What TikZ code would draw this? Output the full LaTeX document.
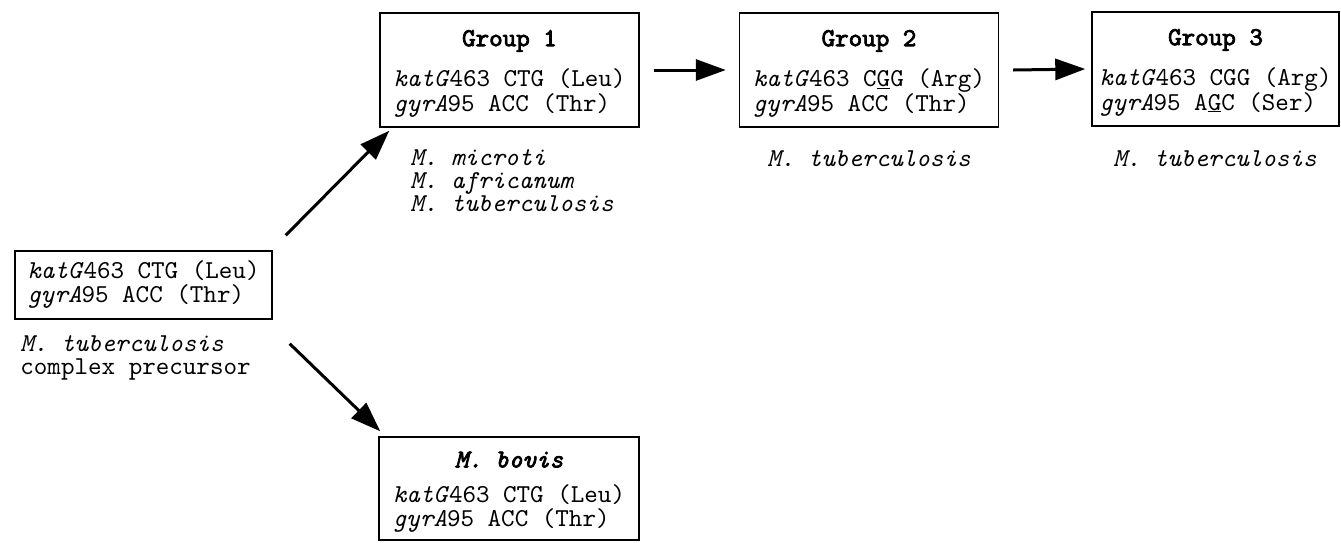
\documentclass[tikz,border=0pt]{standalone}
\usepackage{fontspec}
\setmonofont{lmmono10-regular.otf}[ItalicFont=lmmono10-italic.otf,
  BoldFont=lmmono10-regular.otf,BoldFeatures={FakeBold=3},
  BoldItalicFont=lmmono10-italic.otf,BoldItalicFeatures={FakeBold=3}]
\usetikzlibrary{arrows.meta,positioning}
% gene names in italics, the two marker codons as a small table
\newcommand{\gene}[1]{\textit{#1}}
\newcommand{\markers}[4]{\begin{tabular}{@{}l@{}}\gene{katG}463 #1 (#2)\\ \gene{gyrA}95 #3 (#4)\end{tabular}}
% changed base, underlined close to the letter
\newcommand{\snp}[1]{\setbox0\hbox{#1}\rlap{\rule[-1.1pt]{\wd0}{0.6pt}}#1}
% box heading, with some room above it
\newcommand{\heading}[1]{\rule{0pt}{12pt}\textbf{#1}\\[7.5pt]}

\begin{document}
\begin{tikzpicture}[x=0.5pt,y=-0.5pt,font=\ttfamily\fontsize{12.9}{11}\selectfont,
    box/.style={draw,line width=0.7pt,align=center,inner sep=0pt},
    grp/.style={box,minimum width=129.5pt,minimum height=57pt},
    names/.style={inner sep=0pt,align=left,font=\ttfamily\fontsize{12.9}{11.5}\selectfont},
    arr/.style={line width=1.5pt,-{Triangle[length=15pt,width=10.5pt]}}]
  \useasboundingbox (0,0) rectangle (1341,542);
  % precursor
  \node[box,minimum width=128.5pt,minimum height=34pt] (pre) at (143.5,285)
    {\markers{CTG}{Leu}{ACC}{Thr}};
  \node[names,anchor=west] (preName) at (20,358)
    {\textit{M. tuberculosis}\\complex precursor};
  % the three groups
  \node[grp] (g1) at (509.5,70)
    {\heading{Group 1}\markers{CTG}{Leu}{ACC}{Thr}};
  \node[grp] (g2) at (869,70)
    {\heading{Group 2}\markers{C\snp{G}G}{Arg}{ACC}{Thr}};
  \node[grp,minimum width=123.5pt] (g3) at (1215.5,69)
    {\heading{Group 3}\markers{CGG}{Arg}{A\snp{G}C}{Ser}};
  \node[names,anchor=west] (g1Name) at (410,181)
    {\textit{M. microti}\\\textit{M. africanum}\\\textit{M. tuberculosis}};
  \node[names] (g2Name) at (869,159) {\textit{M. tuberculosis}};
  \node[names] (g3Name) at (1215,159) {\textit{M. tuberculosis}};
  % bovis branch
  \node[box,minimum width=130pt,minimum height=51.5pt] (bovis) at (509,488.5)
    {\heading{\itshape M. bovis}\markers{CTG}{Leu}{ACC}{Thr}};
  % arrows
  \draw[arr] ([shift={(13,-15)}]pre.north east) -- ([shift={(10,3)}]g1.south west);
  \draw[arr] ([shift={(17,24)}]pre.south east) -- ([shift={(2,-5)}]bovis.north west);
  \draw[arr] ([xshift=7pt]g1.east) -- ([xshift=-6.5pt]g2.west);
  \draw[arr] ([xshift=7pt]g2.east) -- ([xshift=-3pt]g3.west);
\end{tikzpicture}
\end{document}
